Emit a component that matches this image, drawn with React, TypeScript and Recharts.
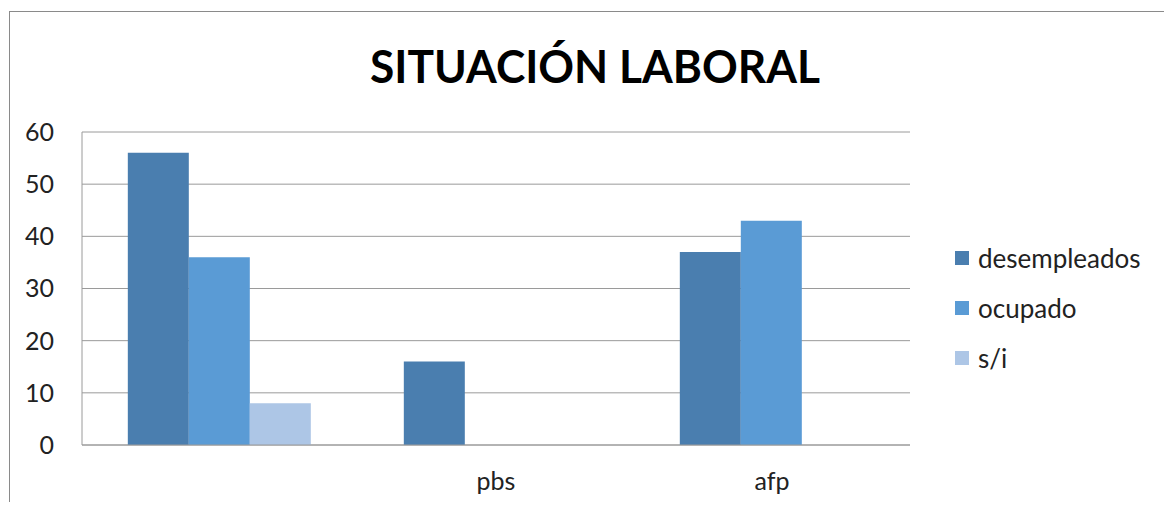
import React from "react"
import { BarChart, Bar, XAxis, YAxis, CartesianGrid, Legend } from "recharts"

const categories = ["", "pbs", "afp"]
const desempleados = [56, 16, 37]
const ocupado = [36, 0, 43]
const sinInfo = [8, 0, 0]
const yTicks = [0, 10, 20, 30, 40, 50, 60]

const series = [
  { key: "desempleados", color: "#4A7EAF" },
  { key: "ocupado", color: "#5A9BD5" },
  { key: "s/i", color: "#ADC6E6" },
]

const data = categories.map((name, i) => ({
  name,
  desempleados: desempleados[i],
  ocupado: ocupado[i],
  "s/i": sinInfo[i],
}))

const FONT = "Lato, 'Liberation Sans', sans-serif"

function renderLegend() {
  return (
    <div style={{ fontFamily: FONT, fontSize: 26, color: "#222" }}>
      {series.map((s) => (
        <div key={s.key} style={{ display: "flex", alignItems: "center", height: 50 }}>
          <span style={{ width: 14, height: 14, background: s.color, marginRight: 9, display: "inline-block" }} />
          <span>{s.key}</span>
        </div>
      ))}
    </div>
  )
}

export default function App() {
  return (
    <div style={{ position: "relative", width: 1172, height: 510, margin: -8, background: "#fff", overflow: "hidden" }}>
      {/* outer chart frame, only top/left edges visible */}
      <div
        style={{
          position: "absolute",
          left: 9,
          top: 11,
          width: 1300,
          height: 600,
          borderLeft: "1px solid #8a8a8a",
          borderTop: "1px solid #8a8a8a",
        }}
      />
      <svg width={1172} height={100} style={{ position: "absolute", left: 0, top: 0 }}>
        <text
          x={595}
          y={83}
          textAnchor="middle"
          textLength={450}
          lengthAdjust="spacingAndGlyphs"
          style={{ fontFamily: FONT, fontSize: 46, fontWeight: 700, fill: "#000" }}
        >
          SITUACIÓN LABORAL
        </text>
      </svg>
      <div style={{ position: "absolute", left: 0, top: 0 }}>
        <BarChart
          width={1172}
          height={510}
          data={data}
          margin={{ top: 132, right: 262, left: 0, bottom: 0 }}
          barCategoryGap="16.6%"
          barGap={0}
        >
          <CartesianGrid horizontal vertical={false} stroke="#9a9a9a" />
          <XAxis
            dataKey="name"
            height={65}
            tickLine={false}
            tickSize={0}
            tickMargin={27}
            stroke="#9a9a9a"
            tick={{ fill: "#222", fontSize: 25, fontFamily: FONT }}
          />
          <YAxis
            width={82}
            domain={[0, 60]}
            ticks={yTicks}
            tickLine={false}
            tickSize={0}
            tickMargin={28}
            stroke="#9a9a9a"
            tick={{ fill: "#222", fontSize: 25, fontFamily: FONT }}
          />
          <Legend
            layout="horizontal"
            verticalAlign="middle"
            align="center"
            wrapperStyle={{ left: 955, top: 233, right: "auto", width: 215 }}
            content={renderLegend}
          />
          {series.map((s) => (
            <Bar key={s.key} dataKey={s.key} fill={s.color} isAnimationActive={false} />
          ))}
        </BarChart>
      </div>
    </div>
  )
}
